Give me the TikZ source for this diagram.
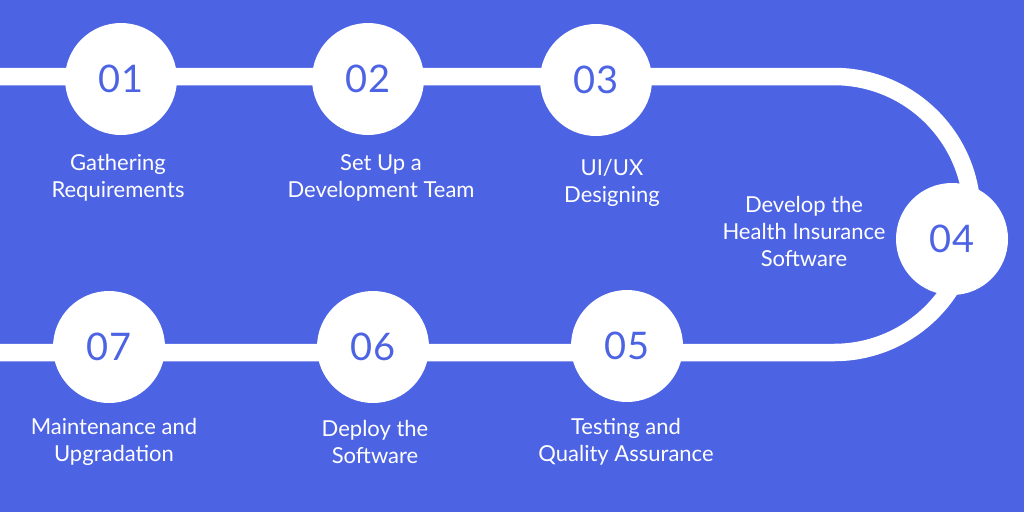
\documentclass[tikz,border=0pt]{standalone}
\usepackage{fontspec}
\setmainfont{Lato}
\usepackage{xcolor}
\definecolor{myblue}{RGB}{76,99,228}

\begin{document}
\begin{tikzpicture}[x=1pt,y=-1pt,semithick]
  \tikzstyle{stepnode}=[circle,fill=white,draw=none,minimum size=112pt,inner sep=0pt,text=myblue,font=\fontsize{38}{38}\selectfont]
  \tikzstyle{caption}=[align=center,text=white,font=\fontsize{22}{27}\selectfont]
  \tikzstyle{track}=[draw=white,line width=17.5pt]

  \fill[myblue] (0,0) rectangle (1024,512);
  \useasboundingbox (0,0) rectangle (1024,512);

  \coordinate (tl) at (0,76.5);
  \coordinate (tr) at (834,76.5);
  \coordinate (bl) at (0,352.5);

  \draw[track] (tl) -- (tr) arc[start angle=90,end angle=-90,radius=138pt] -- (bl);

  \node[stepnode] (c1) at (121,79)  {01};
  \node[stepnode] (c2) at (368,79)  {02};
  \node[stepnode] (c3) at (596,80)  {03};
  \node[stepnode] (c4) at (952,239) {04};
  \node[stepnode] (c5) at (627,346) {05};
  \node[stepnode] (c6) at (373,347) {06};
  \node[stepnode] (c7) at (109,347) {07};

  \node[caption] (l1) at (118,178) {Gathering\\Requirements};
  \node[caption] (l2) at (381,178) {Set Up a\\Development Team};
  \node[caption] (l3) at (612,183) {UI/UX\\Designing};
  \node[caption] (l4) at (804,231) {Develop the\\Health Insurance\\Software};
  \node[caption] (l5) at (626,442) {Testing and\\Quality Assurance};
  \node[caption] (l6) at (375,442) {Deploy the\\Software};
  \node[caption] (l7) at (114,442) {Maintenance and\\Upgradation};
\end{tikzpicture}
\end{document}
